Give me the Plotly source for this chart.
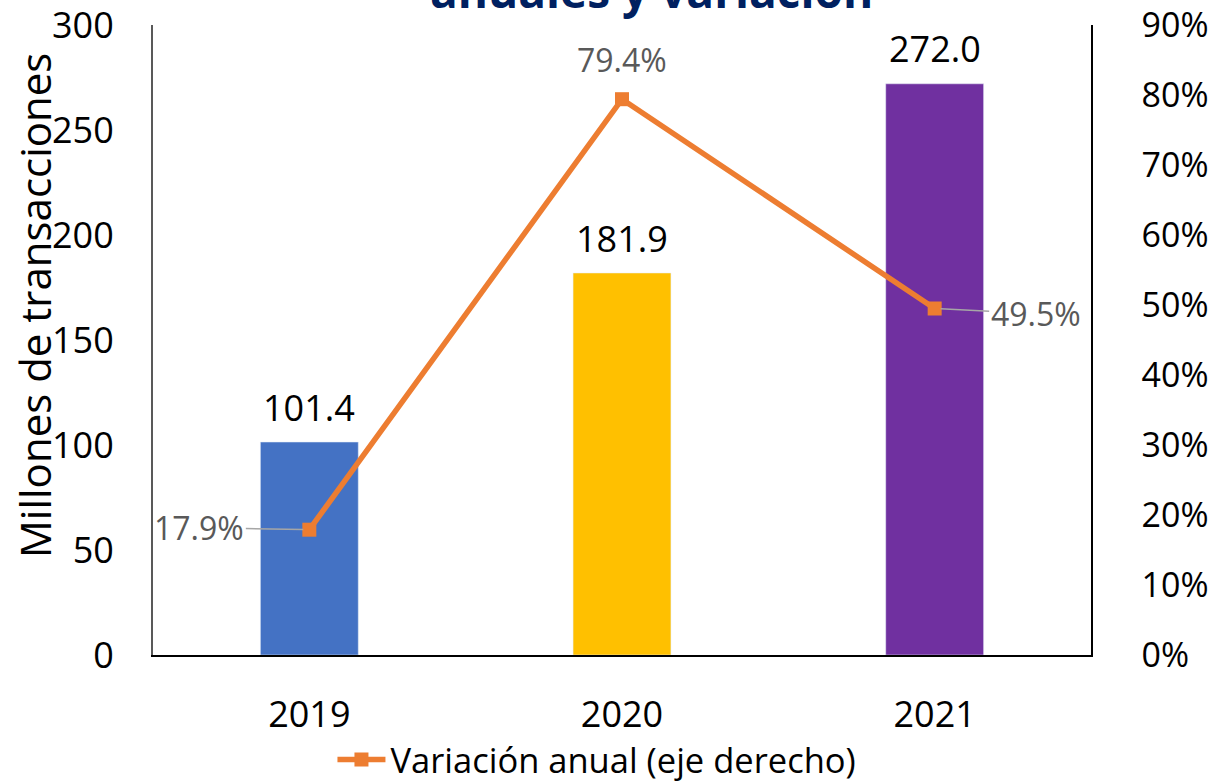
import plotly.graph_objects as go

years = ["2019", "2020", "2021"]
transacciones = [101.4, 181.9, 272.0]
variacion = [0.179, 0.794, 0.495]
bar_colors = ["#4472C4", "#FFC000", "#7030A0"]
bar_labels = ["101.4", "181.9", "272.0"]
var_labels = ["17.9%", "79.4%", "49.5%"]

FONT = "Open Sans"

fig = go.Figure()
fig.add_trace(go.Bar(
    x=years, y=transacciones, marker_color=bar_colors, width=0.313,
    showlegend=False, hoverinfo="skip", yaxis="y"
))
fig.add_trace(go.Scatter(
    x=years, y=variacion, mode="lines+markers", yaxis="y2",
    name="Variación anual (eje derecho)",
    line=dict(color="#ED7D31", width=5.5),
    marker=dict(symbol="square", size=14, color="#ED7D31"),
    showlegend=True
))

annotations = []
# bar value labels (x given as category index)
for i, (v, t) in enumerate(zip(transacciones, bar_labels)):
    annotations.append(dict(x=i, y=v, xref="x", yref="y", text=t, showarrow=False,
                            yshift=35, font=dict(size=36, color="#000000", family=FONT)))

# line labels
annotations.append(dict(x=0, y=variacion[0], xref="x", yref="y2", text=var_labels[0],
                        showarrow=True, arrowhead=0, arrowwidth=1.5, arrowcolor="#A6A6A6",
                        ax=-110, ay=-2, standoff=6,
                        font=dict(size=32, color="#595959", family=FONT)))
annotations.append(dict(x=1, y=variacion[1], xref="x", yref="y2", text=var_labels[1],
                        showarrow=False, yshift=40,
                        font=dict(size=32, color="#595959", family=FONT)))
annotations.append(dict(x=2, y=variacion[2], xref="x", yref="y2", text=var_labels[2],
                        showarrow=True, arrowhead=0, arrowwidth=1.5, arrowcolor="#A6A6A6",
                        ax=101, ay=5, standoff=6,
                        font=dict(size=32, color="#595959", family=FONT)))

# title (cut off at top)
annotations.append(dict(x=0.531, y=1.056, xref="paper", yref="paper", text="<b>anuales y variación</b>",
                        showarrow=False, yanchor="middle", xanchor="center",
                        font=dict(size=46, color="#002060", family=FONT)))
# y axis title
annotations.append(dict(x=-0.1258, y=0.5556, xref="paper", yref="paper", text="Millones de transacciones",
                        showarrow=False, textangle=-90, xanchor="center", yanchor="middle",
                        font=dict(size=42, color="#000000", family=FONT)))

fig.update_layout(
    width=1216, height=783,
    margin=dict(l=153, r=125, t=25, b=128, autoexpand=False),
    paper_bgcolor="white", plot_bgcolor="white",
    font=dict(family=FONT, size=36, color="#000000"),
    xaxis=dict(type="category", categoryorder="array", categoryarray=years, range=[-0.5, 2.5],
               showline=True, linecolor="#000000", linewidth=2, showgrid=False,
               tickfont=dict(size=36), ticks="outside", ticklen=27, tickcolor="rgba(0,0,0,0)"),
    yaxis=dict(range=[0, 300], dtick=50, showgrid=False, zeroline=False, showline=True,
               linecolor="#595959", linewidth=2, ticks="outside", ticklen=30,
               tickcolor="rgba(0,0,0,0)", tickfont=dict(size=36), ticklabeloverflow="allow"),
    yaxis2=dict(range=[0, 0.9], dtick=0.1, tickformat=".0%", overlaying="y", side="right",
                showgrid=False, zeroline=False, showline=True, linecolor="#000000", linewidth=1.5,
                ticks="outside", ticklen=42, tickcolor="rgba(0,0,0,0)", tickfont=dict(size=34),
                ticklabeloverflow="allow"),
    legend=dict(orientation="h", x=0.4733, y=-0.166, xanchor="center", yanchor="middle",
                font=dict(size=34.5, family=FONT), itemwidth=48),
    annotations=annotations,
)

fig.write_html("out.html", config={"displayModeBar": False},
               post_script="document.body.style.margin='0';")
